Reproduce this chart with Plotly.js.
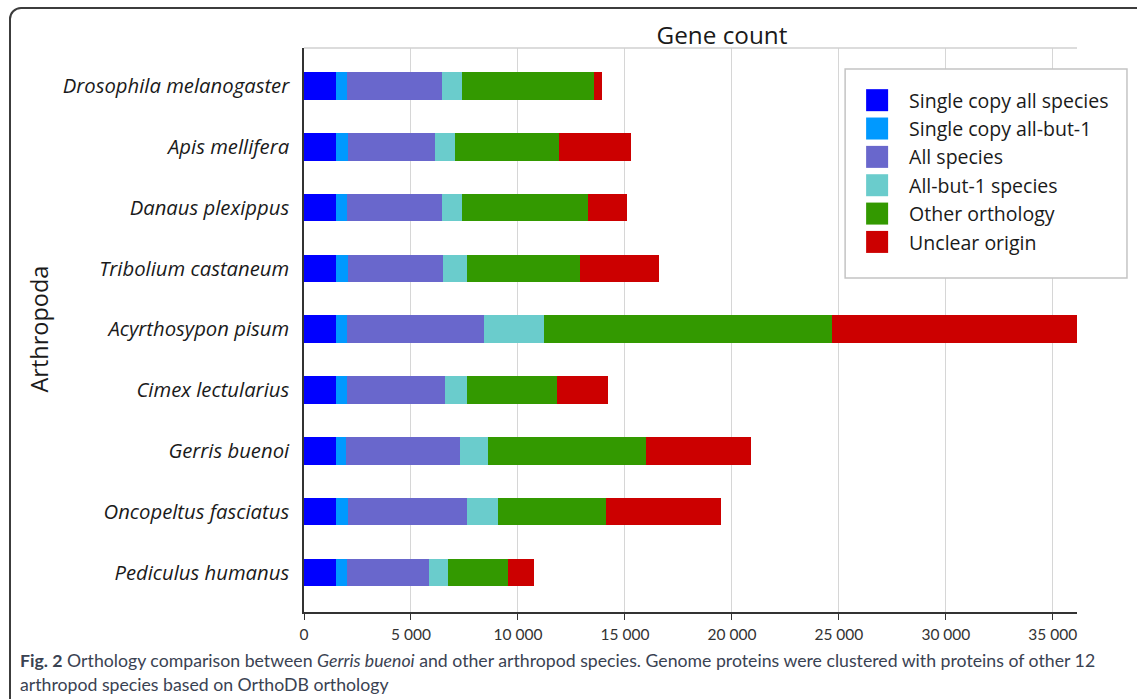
<!DOCTYPE html>
<html>
<head>
<meta charset="utf-8">
<script src="https://cdn.plot.ly/plotly-3.0.1.min.js"></script>
<style>
  html, body { margin: 0; padding: 0; background: #fff; }
  #wrap { position: relative; width: 1137px; height: 699px; overflow: hidden; }
  #chart { position: absolute; left: 0; top: 0; width: 1137px; height: 699px; }
  #frame { position: absolute; left: 9px; top: 7px; width: 1200px; height: 800px;
           border: 2px solid #3c3c3c; border-radius: 12px; pointer-events: none; box-sizing: border-box; }
</style>
</head>
<body>
<div id="wrap">
  <div id="chart"></div>
  <div id="frame"></div>
</div>
<script>
// ---- Data ----
const species = [
  'Drosophila melanogaster', 'Apis mellifera', 'Danaus plexippus', 'Tribolium castaneum',
  'Acyrthosypon pisum', 'Cimex lectularius', 'Gerris buenoi', 'Oncopeltus fasciatus', 'Pediculus humanus'
];
const seriesNames = ['Single copy all species', 'Single copy all-but-1', 'All species',
                     'All-but-1 species', 'Other orthology', 'Unclear origin'];
const singleCopyAll   = [1500, 1500, 1500, 1500, 1500, 1500, 1500, 1500, 1500];
const singleCopyBut1  = [530, 560, 530, 560, 530, 530, 480, 560, 530];
const allSpecies      = [4440, 4080, 4420, 4440, 6380, 4550, 5290, 5540, 3830];
const allBut1Species  = [900, 920, 950, 1100, 2790, 1030, 1350, 1480, 870];
const otherOrthology  = [6200, 4860, 5870, 5280, 13460, 4230, 7350, 5030, 2820];
const unclearOrigin   = [340, 3380, 1840, 3690, 11490, 2350, 4920, 5380, 1200];
const xTicks = [0, 5000, 10000, 15000, 20000, 25000, 30000, 35000];

const seriesValues = [singleCopyAll, singleCopyBut1, allSpecies, allBut1Species, otherOrthology, unclearOrigin];
const colors = ['#0000ff', '#0099ff', '#6967cc', '#6acccc', '#339900', '#cc0000'];

const chartFont = '"Open Sans", Lato, sans-serif';
const numFont = 'Lato, "Open Sans", sans-serif';

const traces = seriesValues.map((vals, i) => ({
  type: 'bar',
  orientation: 'h',
  name: seriesNames[i],
  y: species,
  x: vals,
  marker: { color: colors[i], line: { width: 0 } },
  hoverinfo: 'x+y+name'
}));

// geometry helpers (paper coords)
const L = 303.6, R = 1077, T = 48, B = 612;
const px2x = p => (p - L) / (R - L);
const px2y = p => (B - p) / (B - T);

const layout = {
  width: 1137, height: 699, autosize: false,
  paper_bgcolor: '#ffffff', plot_bgcolor: '#ffffff',
  margin: { l: L, r: 1137 - R, t: T, b: 699 - B, pad: 0 },
  barmode: 'stack',
  bargap: 0.545,
  separators: '. ',
  font: { family: chartFont, color: '#1a1a1a' },
  title: {
    text: 'Gene count',
    font: { family: chartFont, size: 24.3, color: '#1a1a1a' },
    x: 722 / 1137, xanchor: 'center', xref: 'container',
    y: 1 - 35 / 699, yanchor: 'middle', yref: 'container'
  },
  xaxis: {
    range: [0, 36130],
    tickvals: xTicks,
    tickformat: ',d',
    showgrid: true, gridcolor: '#d6d6d6', gridwidth: 1.3,
    zeroline: false,
    showline: true, linecolor: '#333333', linewidth: 1.5,
    ticks: 'outside', ticklen: 6, tickcolor: '#333333', tickwidth: 1.3,
    ticklabelstandoff: 2,
    tickfont: { family: numFont, size: 15.5, color: '#333333' },
    fixedrange: true
  },
  yaxis: {
    type: 'category',
    categoryorder: 'array', categoryarray: species,
    range: [8.651, -0.625],
    showgrid: false, zeroline: false,
    showline: true, linecolor: '#333333', linewidth: 1.5,
    ticks: '',
    ticklabelstandoff: 9,
    tickfont: { family: chartFont, size: 20.3, color: '#1a1a1a', style: 'italic' },
    fixedrange: true
  },
  showlegend: true,
  legend: {
    x: px2x(845), xanchor: 'left',
    y: px2y(81), yanchor: 'top',
    bgcolor: 'rgba(0,0,0,0)', borderwidth: 0,
    font: { family: chartFont, size: 19.5, color: '#1a1a1a' },
    traceorder: 'normal',
    itemwidth: 54,
    itemclick: false, itemdoubleclick: false
  },
  shapes: [
    // light top border of plot area
    { type: 'line', xref: 'paper', yref: 'paper', x0: 0, x1: 1, y0: 1, y1: 1,
      line: { color: '#d0d0d0', width: 1.5 }, layer: 'above' },
    // legend box
    { type: 'rect', xref: 'paper', yref: 'paper',
      x0: px2x(845), x1: px2x(1127), y0: px2y(278), y1: px2y(69),
      fillcolor: '#ffffff', line: { color: '#c4c4c4', width: 1.5 }, layer: 'above' }
  ],
  annotations: [
    { text: 'Arthropoda', xref: 'paper', yref: 'paper', x: px2x(38), y: px2y(329),
      xanchor: 'center', yanchor: 'middle', textangle: -90, showarrow: false,
      font: { family: chartFont, size: 23.5, color: '#1a1a1a' } },
    { text: '<b>Fig. 2</b> Orthology comparison between <i>Gerris buenoi</i> and other arthropod species. Genome proteins were clustered with proteins of other 12',
      xref: 'paper', yref: 'paper', x: px2x(17), y: px2y(660), xanchor: 'left', yanchor: 'middle',
      align: 'left', showarrow: false,
      font: { family: numFont, size: 17.7, color: '#3a4252' } },
    { text: 'arthropod species based on OrthoDB orthology',
      xref: 'paper', yref: 'paper', x: px2x(17), y: px2y(684), xanchor: 'left', yanchor: 'middle',
      align: 'left', showarrow: false,
      font: { family: numFont, size: 17.7, color: '#3a4252' } }
  ]
};

Plotly.newPlot('chart', traces, layout, { displayModeBar: false }).then(gd => {
  // enlarge legend colour squares to match the reference
  gd.querySelectorAll('.legend .legendpoints path').forEach(p => {
    p.setAttribute('d', 'M11,11H-11V-11H11Z');
  });
});
</script>
</body>
</html>
